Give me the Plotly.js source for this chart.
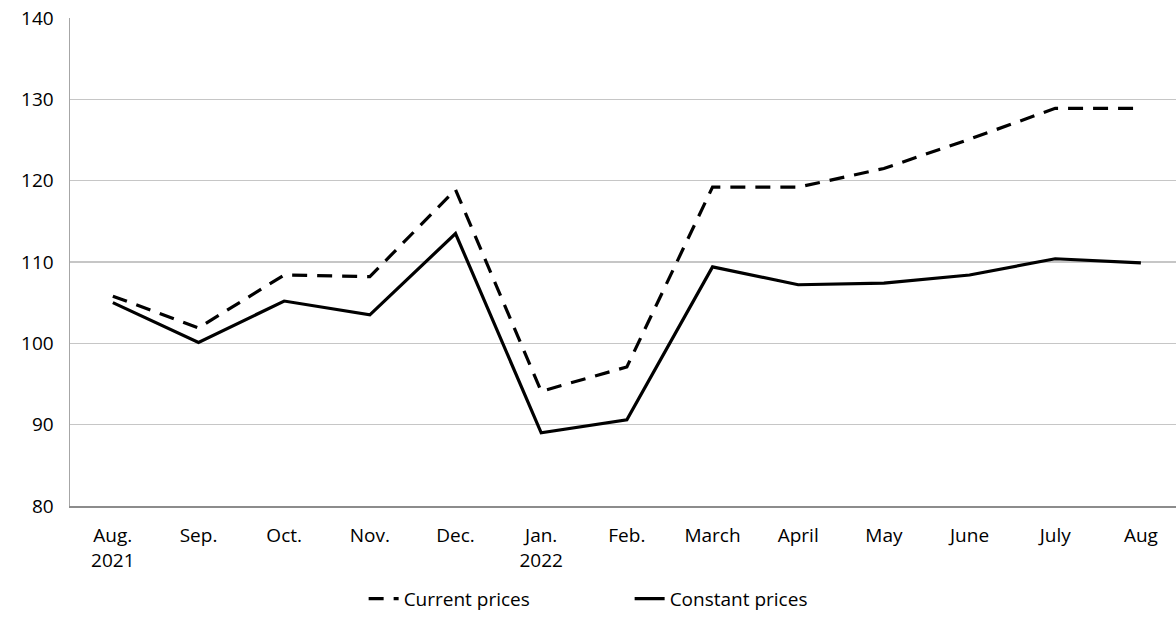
<!DOCTYPE html>
<html>
<head>
<meta charset="utf-8">
<script src="https://cdn.plot.ly/plotly-3.0.1.min.js"></script>
<style>html,body{margin:0;padding:0;background:#fff;}#chart{width:1176px;height:629px;}</style>
</head>
<body>
<div id="chart"></div>
<script>
const categories = ["Aug.<br>2021","Sep.","Oct.","Nov.","Dec.","Jan.<br>2022","Feb.","March","April","May","June","July","Aug"];
const currentPrices = [105.8, 101.9, 108.4, 108.2, 118.9, 94.1, 97.1, 119.2, 119.2, 121.5, 125.1, 128.9, 128.9];
const constantPrices = [105.0, 100.1, 105.2, 103.5, 113.5, 89.0, 90.6, 109.4, 107.2, 107.4, 108.4, 110.4, 109.9];
const seriesNames = ["Current prices", "Constant prices"];
const yTicks = [80, 90, 100, 110, 120, 130, 140];

const idx = categories.map((_, i) => i);
const font = {family: "Open Sans, Lato, sans-serif", size: 19, color: "#000"};

const traces = [
  {x: idx, y: currentPrices, name: seriesNames[0], type: "scatter", mode: "lines",
   line: {color: "#000", width: 3.2, dash: "15px,10px"}},
  {x: idx, y: constantPrices, name: seriesNames[1], type: "scatter", mode: "lines",
   line: {color: "#000", width: 3.2}}
];

const layout = {
  width: 1176, height: 629,
  margin: {l: 70, r: 0, t: 18, b: 123},
  paper_bgcolor: "#fff", plot_bgcolor: "#fff",
  font: font,
  showlegend: true,
  legend: {orientation: "h", x: 0.506, xanchor: "center", y: -0.19, yanchor: "middle",
           font: font, entrywidth: 221, entrywidthmode: "pixels", tracegroupgap: 0},
  xaxis: {
    range: [-0.5, 12.41], tickmode: "array", tickvals: idx, ticktext: categories,
    showgrid: false, zeroline: false, showline: true, linecolor: "#8c8c8c", linewidth: 1.5,
    ticks: "", ticklabelstandoff: 12, tickfont: font, fixedrange: true
  },
  yaxis: {
    range: [80, 140], tickmode: "array", tickvals: yTicks,
    showgrid: true, gridcolor: "#c6c6c6", gridwidth: 1.3, zeroline: false,
    showline: true, linecolor: "#a6a6a6", linewidth: 1.5,
    ticks: "", ticklabelstandoff: 11, tickfont: font, fixedrange: true
  }
};

Plotly.newPlot("chart", traces, layout, {staticPlot: true, displayModeBar: false});
</script>
</body>
</html>
